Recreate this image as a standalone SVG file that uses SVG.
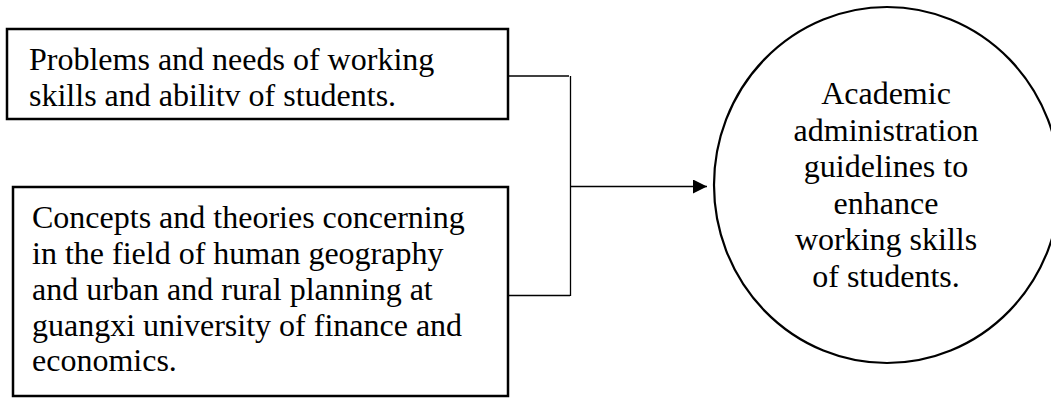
<svg xmlns="http://www.w3.org/2000/svg" width="1051" height="398" viewBox="0 0 1051 398">
<defs>
<style>
.box{fill:#fff;stroke:#000;stroke-width:2.5}
.node-circle{fill:#fff;stroke:#000;stroke-width:2.2}
.conn{fill:none;stroke:#000;stroke-width:1.3}
.t{font-family:"Liberation Serif","Times New Roman",serif;font-size:32px;fill:#000}
.c{text-anchor:middle}
</style>
<marker id="arrow" markerWidth="14" markerHeight="14" refX="14" refY="7" orient="auto" markerUnits="userSpaceOnUse">
<path d="M0,0 L14,7 L0,14 Z" fill="#000"/>
</marker>
</defs>
<rect width="1051" height="398" fill="#fff"/>
<g id="connectors">
<path class="conn" d="M508,76 H569"/>
<path class="conn" d="M570.5,76 V296"/>
<path class="conn" d="M508,295.5 H570"/>
<path class="conn" d="M571,186.5 H707" marker-end="url(#arrow)"/>
</g>
<g id="node-problems">
<rect class="box" x="7" y="29" width="501" height="90"/>
<text class="t" x="29" y="70">Problems and needs of working</text>
<text class="t" x="29" y="106">skills and abilitv of students.</text>
</g>
<g id="node-concepts">
<rect class="box" x="13" y="187" width="495" height="209"/>
<text class="t" x="32" y="228">Concepts and theories concerning</text>
<text class="t" x="32" y="264">in the field of human geography</text>
<text class="t" x="32" y="300">and urban and rural planning at</text>
<text class="t" x="32" y="336">guangxi university of finance and</text>
<text class="t" x="32" y="371">economics.</text>
</g>
<g id="node-guidelines">
<ellipse class="node-circle" cx="887" cy="185" rx="173" ry="178"/>
<text class="t c" x="886" y="104">Academic</text>
<text class="t c" x="886" y="140.5">administration</text>
<text class="t c" x="886" y="177">guidelines to</text>
<text class="t c" x="886" y="213.5">enhance</text>
<text class="t c" x="886" y="250">working skills</text>
<text class="t c" x="886" y="286.5">of students.</text>
</g>
</svg>
